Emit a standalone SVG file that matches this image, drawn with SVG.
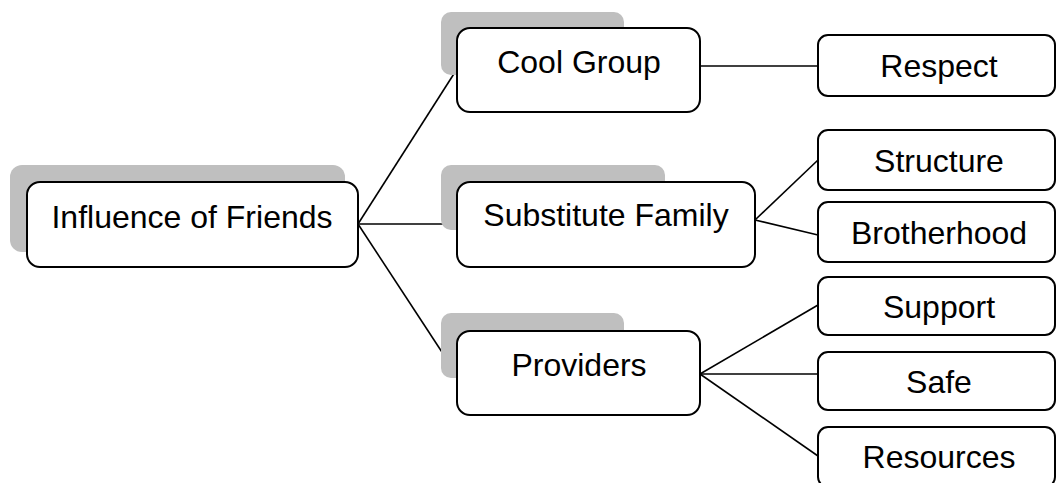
<svg xmlns="http://www.w3.org/2000/svg" width="1057" height="483" viewBox="0 0 1057 483">
<style>
.sh{fill:#bfbfbf;stroke:none}
.bx{fill:#fff;stroke:#000;stroke-width:2}
.t{font-family:"Liberation Sans",Arial,sans-serif;font-size:32px;fill:#000;text-anchor:middle}
.ln{stroke:#000;stroke-width:1.6;fill:none}
</style>
<rect width="1057" height="483" fill="#fff"/>
<g id="connectors">
<line class="ln" x1="358" y1="224" x2="457" y2="69"/>
<line class="ln" x1="358" y1="224" x2="457" y2="224"/>
<line class="ln" x1="358" y1="224" x2="457" y2="375"/>
<line class="ln" x1="700" y1="66" x2="818" y2="66"/>
<line class="ln" x1="755" y1="220" x2="818" y2="160"/>
<line class="ln" x1="755" y1="220" x2="818" y2="235"/>
<line class="ln" x1="700" y1="374" x2="818" y2="305"/>
<line class="ln" x1="700" y1="374" x2="818" y2="374"/>
<line class="ln" x1="700" y1="374" x2="818" y2="456"/>
</g>
<g id="root">
<rect class="sh" x="10" y="165" width="335" height="87" rx="12"/>
<rect class="bx" x="27" y="182" width="331" height="85" rx="13"/>
<text class="t" x="192" y="228">Influence of Friends</text>
</g>
<g id="cool-group">
<rect class="sh" x="441" y="12" width="183" height="63" rx="10"/>
<rect class="bx" x="457" y="28" width="243" height="84" rx="13"/>
<text class="t" x="579" y="73">Cool Group</text>
</g>
<g id="substitute-family">
<rect class="sh" x="441" y="165" width="224" height="65" rx="10"/>
<rect class="bx" x="457" y="182" width="298" height="85" rx="13"/>
<text class="t" x="606" y="226">Substitute Family</text>
</g>
<g id="providers">
<rect class="sh" x="441" y="313" width="183" height="65" rx="10"/>
<rect class="bx" x="457" y="331" width="243" height="84" rx="13"/>
<text class="t" x="579" y="376">Providers</text>
</g>
<g id="respect">
<rect class="bx" x="818" y="35" width="237" height="61" rx="10"/>
<text class="t" x="939" y="77">Respect</text>
</g>
<g id="structure">
<rect class="bx" x="818" y="130" width="237" height="60" rx="10"/>
<text class="t" x="939" y="172">Structure</text>
</g>
<g id="brotherhood">
<rect class="bx" x="818" y="202" width="237" height="60" rx="10"/>
<text class="t" x="939" y="244">Brotherhood</text>
</g>
<g id="support">
<rect class="bx" x="818" y="277" width="237" height="58" rx="10"/>
<text class="t" x="939" y="318">Support</text>
</g>
<g id="safe">
<rect class="bx" x="818" y="352" width="237" height="58" rx="10"/>
<text class="t" x="939" y="393">Safe</text>
</g>
<g id="resources">
<rect class="bx" x="818" y="427" width="237" height="60" rx="10"/>
<text class="t" x="939" y="468">Resources</text>
</g>
</svg>
